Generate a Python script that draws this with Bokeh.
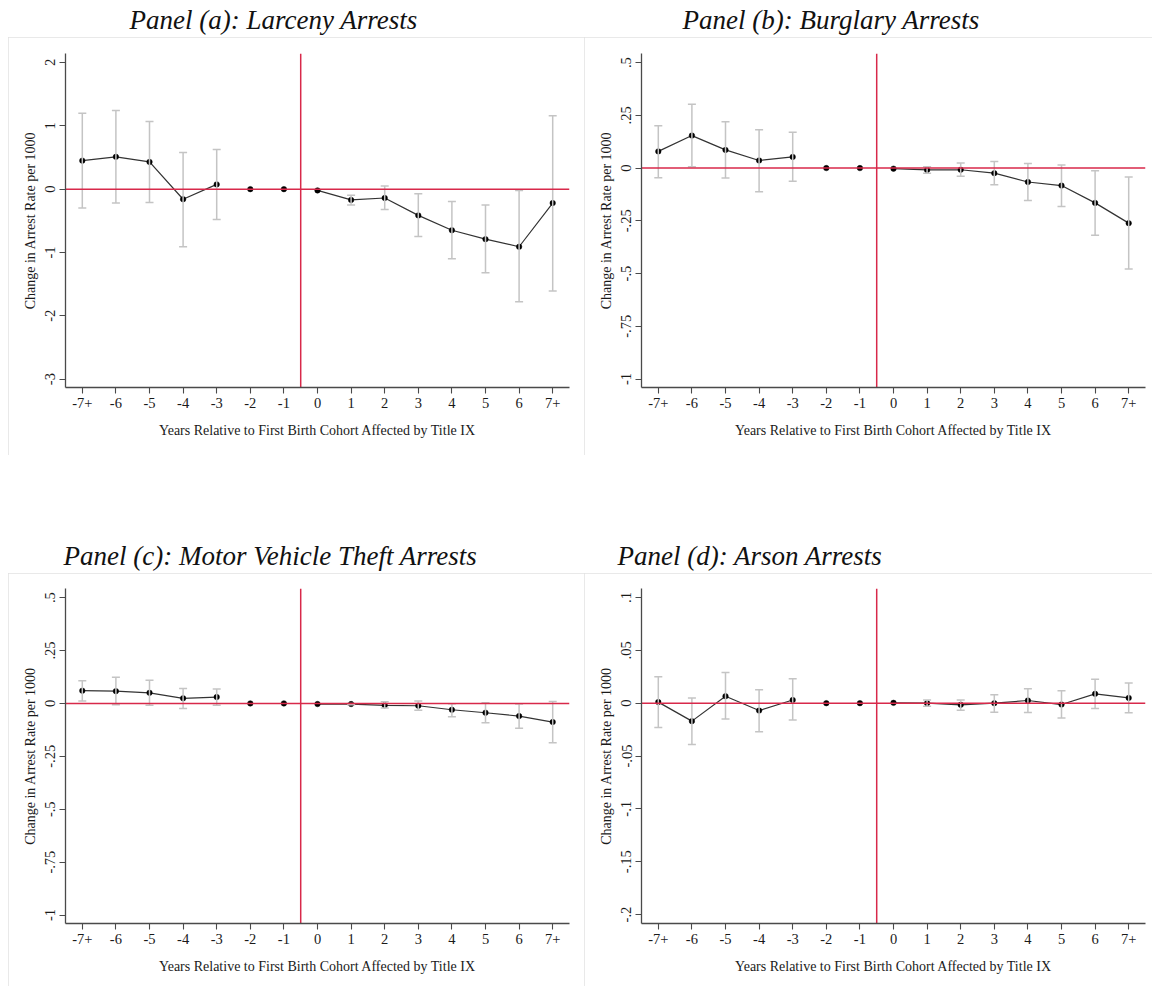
import math
from bokeh.plotting import figure
from bokeh.layouts import column, row
from bokeh.models import (ColumnDataSource, FixedTicker, Span, Whisker, TeeHead,
                          Label, Range1d, Spacer)
from bokeh.embed import file_html
from bokeh.resources import INLINE

NaN = float("nan")

# ---------------- data ----------------
x_labels = ["-7+", "-6", "-5", "-4", "-3", "-2", "-1", "0", "1", "2", "3", "4", "5", "6", "7+"]

titles = ["Panel (a): Larceny Arrests",
          "Panel (b): Burglary Arrests",
          "Panel (c): Motor Vehicle Theft Arrests",
          "Panel (d): Arson Arrests"]

larceny_est = [0.45, 0.51, 0.43, -0.16, 0.075, 0.0, 0.0, -0.02, -0.17, -0.14, -0.415, -0.65, -0.79, -0.91, -0.22]
larceny_lo = [-0.30, -0.22, -0.21, -0.91, -0.48, NaN, NaN, NaN, -0.25, -0.32, -0.75, -1.10, -1.32, -1.78, -1.61]
larceny_hi = [1.20, 1.24, 1.07, 0.58, 0.625, NaN, NaN, NaN, -0.095, 0.05, -0.075, -0.195, -0.25, -0.02, 1.16]

burglary_est = [0.079, 0.154, 0.086, 0.036, 0.053, 0.0, 0.0, -0.003, -0.009, -0.008, -0.024, -0.066, -0.083, -0.165, -0.261]
burglary_lo = [-0.046, 0.006, -0.047, -0.112, -0.063, NaN, NaN, NaN, -0.024, -0.039, -0.079, -0.154, -0.182, -0.319, -0.478]
burglary_hi = [0.201, 0.303, 0.22, 0.182, 0.17, NaN, NaN, NaN, 0.006, 0.024, 0.031, 0.022, 0.014, -0.013, -0.042]

mvt_est = [0.060, 0.058, 0.050, 0.024, 0.030, 0.0, 0.0, -0.003, -0.003, -0.009, -0.011, -0.030, -0.044, -0.060, -0.088]
mvt_lo = [0.011, -0.006, -0.009, -0.024, -0.009, NaN, NaN, NaN, -0.006, -0.022, -0.032, -0.063, -0.091, -0.117, -0.186]
mvt_hi = [0.107, 0.124, 0.109, 0.071, 0.068, NaN, NaN, NaN, 0.0, 0.008, 0.011, -0.002, 0.003, -0.003, 0.009]

arson_est = [0.001, -0.017, 0.0066, -0.007, 0.003, 0.0, 0.0, 0.0003, 0.0, -0.0016, 0.0, 0.0025, -0.0013, 0.0088, 0.005]
arson_lo = [-0.023, -0.039, -0.015, -0.027, -0.016, NaN, NaN, NaN, -0.003, -0.0066, -0.0085, -0.0088, -0.014, -0.005, -0.009]
arson_hi = [0.025, 0.005, 0.029, 0.0126, 0.023, NaN, NaN, NaN, 0.003, 0.003, 0.008, 0.0136, 0.0117, 0.0227, 0.019]

yticks_a = [-3, -2, -1, 0, 1, 2]
ylabels_a = ["-3", "-2", "-1", "0", "1", "2"]
yticks_bc = [-1, -0.75, -0.5, -0.25, 0, 0.25, 0.5]
ylabels_bc = ["-1", "-.75", "-.5", "-.25", "0", ".25", ".5"]
yticks_d = [-0.2, -0.15, -0.1, -0.05, 0, 0.05, 0.1]
ylabels_d = ["-.2", "-.15", "-.1", "-.05", "0", ".05", ".1"]

yrange_a = (-3.133, 2.142)
yrange_bc = (-1.040, 0.543)
yrange_d = (-0.2085, 0.1085)

pre_period = 5    # -7+ .. -3 connected
post_start = 7    # 0 .. 7+ connected
event_line = 6.5  # between -1 and 0

# ---------------- style ----------------
FONT = "Liberation Serif"
RED = "#d8294a"
AXIS = "#4a4a4a"
CI = "#c4c4c4"
LINE = "#333333"
TXT = "#1a1a1a"
BOX = {"outline": "1px solid #e2e2e2", "outline-offset": "-1px"}


def make_title(text, width, height, tx, baseline):
    # frame covers the whole canvas and maps 1:1 onto canvas pixels
    t = figure(width=width, height=height, output_backend="svg", toolbar_location=None,
               x_range=Range1d(0, width), y_range=Range1d(0, height),
               min_border=0, min_border_left=0, min_border_right=0,
               min_border_top=0, min_border_bottom=0,
               x_axis_location=None, y_axis_location=None,
               background_fill_color="white", border_fill_color="white")
    t.outline_line_color = None
    t.grid.visible = False
    t.add_layout(Label(x=tx, y=height - baseline - 5, text=text, text_font=FONT,
                       text_font_style="italic", text_font_size="27px",
                       text_color="#111111", text_baseline="bottom",
                       text_align="left"))
    return t


def make_panel(est, lo, hi, yticks, ylabels, yrange, width, height,
               left, right, top, bottom):
    xs = list(range(len(x_labels)))
    p = figure(width=width, height=height, output_backend="svg", toolbar_location=None,
               x_range=Range1d(-0.5, len(x_labels) - 0.5), y_range=Range1d(*yrange),
               min_border_left=left, min_border_right=right,
               min_border_top=top, min_border_bottom=bottom,
               background_fill_color="white", border_fill_color="white",
               styles=BOX)
    p.outline_line_color = None
    p.grid.visible = False

    # confidence intervals
    ci_x = [x for x, a in zip(xs, lo) if not math.isnan(a)]
    ci_lo = [a for a in lo if not math.isnan(a)]
    ci_hi = [b for b in hi if not math.isnan(b)]
    ci_src = ColumnDataSource(dict(x=ci_x, lo=ci_lo, hi=ci_hi))
    p.add_layout(Whisker(base="x", lower="lo", upper="hi", source=ci_src,
                         line_color=CI, line_width=1.5,
                         upper_head=TeeHead(size=8, line_color=CI, line_width=1.5),
                         lower_head=TeeHead(size=8, line_color=CI, line_width=1.5),
                         level="glyph"))

    # reference lines
    p.add_layout(Span(location=0, dimension="width", line_color=RED, line_width=1.5, level="glyph"))
    p.add_layout(Span(location=event_line, dimension="height", line_color=RED, line_width=1.5, level="glyph"))

    # connected estimates
    p.line(xs[:pre_period], est[:pre_period], line_color=LINE, line_width=1.2)
    p.line(xs[post_start:], est[post_start:], line_color=LINE, line_width=1.2)
    p.scatter(xs, est, size=5.5, fill_color="black", line_color="black", line_width=0.5)

    # axes
    p.xaxis.ticker = FixedTicker(ticks=xs)
    p.xaxis.major_label_overrides = {i: s for i, s in enumerate(x_labels)}
    p.yaxis.ticker = FixedTicker(ticks=yticks)
    p.yaxis.major_label_overrides = {t: s for t, s in zip(yticks, ylabels)}
    p.yaxis.major_label_orientation = "vertical"
    p.xaxis.axis_label = "Years Relative to First Birth Cohort Affected by Title IX"
    p.yaxis.axis_label = "Change in Arrest Rate per 1000"
    for ax in (p.xaxis, p.yaxis):
        ax.axis_line_color = AXIS
        ax.axis_line_width = 1.3
        ax.major_tick_line_color = AXIS
        ax.major_tick_line_width = 1.1
        ax.major_tick_out = 6
        ax.major_tick_in = 0
        ax.minor_tick_out = 0
        ax.minor_tick_in = 0
        ax.major_label_text_font = FONT
        ax.major_label_text_font_size = "14.5px"
        ax.major_label_text_color = TXT
        ax.axis_label_text_font = FONT
        ax.axis_label_text_font_style = "normal"
        ax.axis_label_text_color = TXT
        ax.axis_label_text_font_size = "14px"
    p.xaxis.major_label_standoff = 4
    p.yaxis.major_label_standoff = 4
    p.xaxis.axis_label_standoff = 12
    p.yaxis.axis_label_standoff = 5
    return p


ta = make_title(titles[0], 584, 37, 129, 29)
tb = make_title(titles[1], 568, 37, 682 - 584, 29)
tc = make_title(titles[2], 584, 118, 63, 110)
td = make_title(titles[3], 568, 118, 617 - 584, 110)

pa = make_panel(larceny_est, larceny_lo, larceny_hi, yticks_a, ylabels_a, yrange_a,
                576, 418, 57, 15, 16, 68)
pb = make_panel(burglary_est, burglary_lo, burglary_hi, yticks_bc, ylabels_bc, yrange_bc,
                568, 418, 57, 7, 16, 68)
pc = make_panel(mvt_est, mvt_lo, mvt_hi, yticks_bc, ylabels_bc, yrange_bc,
                576, 413, 57, 15, 15, 63)
pd = make_panel(arson_est, arson_lo, arson_hi, yticks_d, ylabels_d, yrange_d,
                568, 413, 57, 7, 15, 63)

layout = column(
    row(column(ta, row(Spacer(width=8, height=418), pa)), column(tb, row(pb))),
    row(column(tc, row(Spacer(width=8, height=413), pc)), column(td, row(pd))),
)

open("out.html", "w").write(file_html(layout, INLINE))
